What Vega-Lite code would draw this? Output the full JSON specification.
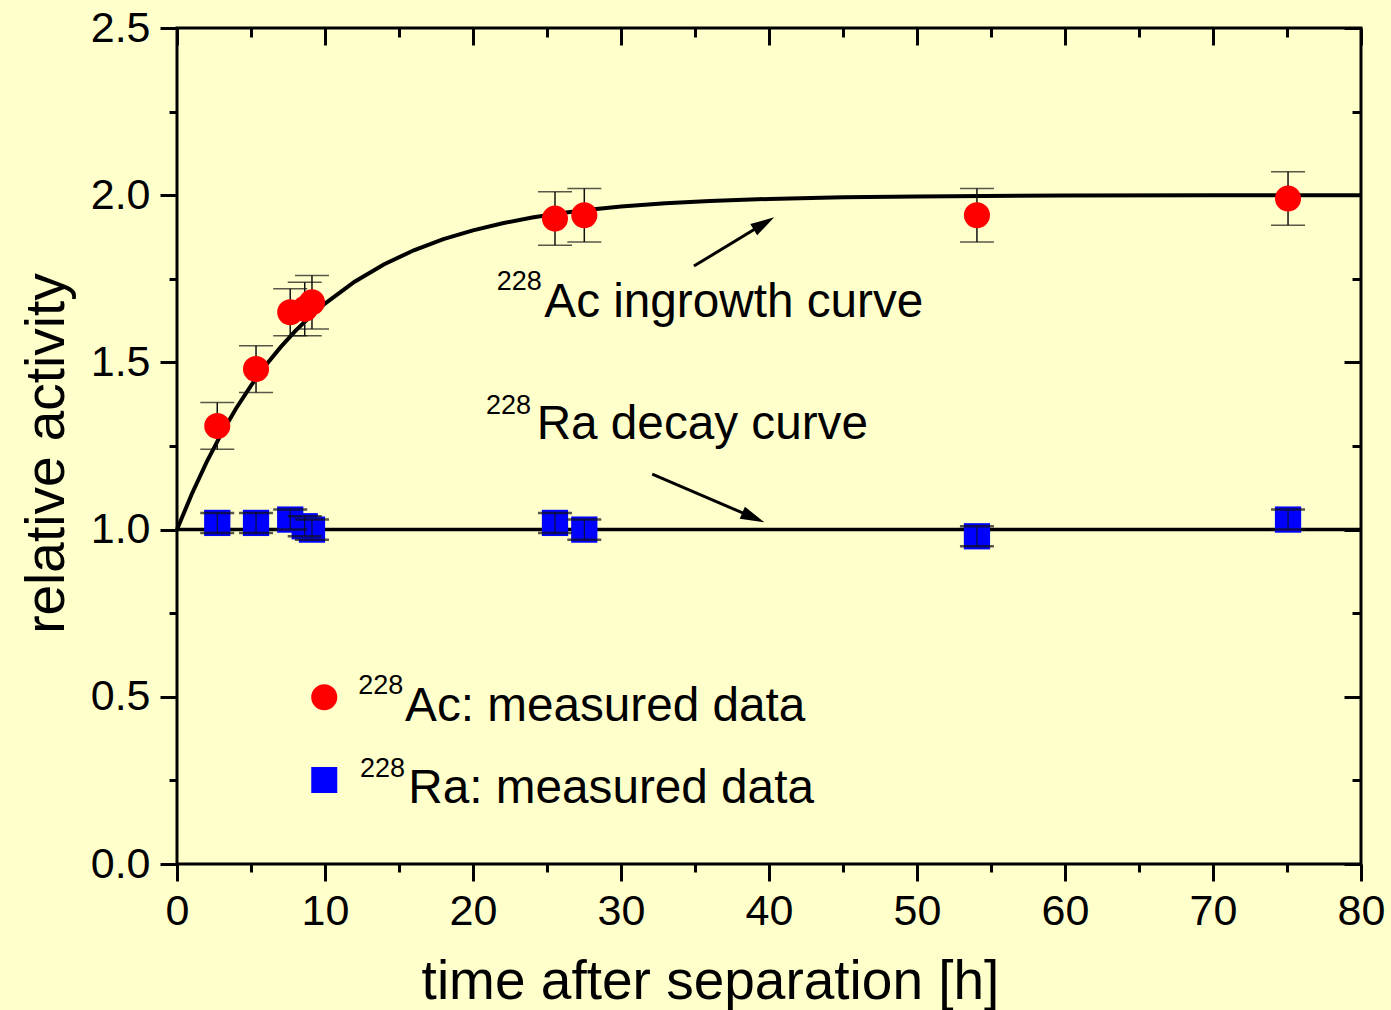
{
  "$schema": "https://vega.github.io/schema/vega-lite/v6.json",
  "width": 1184,
  "height": 836,
  "autosize": {"type": "none"},
  "padding": {"left": 177, "top": 28, "right": 30, "bottom": 146},
  "background": "#FFFFCC",
  "config": {
    "view": {"stroke": "black", "strokeWidth": 3, "fill": "#FFFFCC"},
    "font": "Liberation Sans",
    "axis": {"grid": false, "domain": false, "tickColor": "black", "tickWidth": 3, "labelColor": "black", "titleColor": "black", "labelFont": "Liberation Sans", "titleFont": "Liberation Sans", "titleFontWeight": "normal", "labelFlush": false, "labelOverlap": false}
  },
  "datasets": {
    "curve": [
      {"t": 0, "a": 1.0}, {"t": 1, "a": 1.1066}, {"t": 2, "a": 1.2018}, {"t": 3, "a": 1.2869},
      {"t": 4, "a": 1.3629}, {"t": 5, "a": 1.4308}, {"t": 6, "a": 1.4915}, {"t": 7, "a": 1.5457},
      {"t": 8, "a": 1.5941}, {"t": 9, "a": 1.6374}, {"t": 10, "a": 1.676}, {"t": 12, "a": 1.7414},
      {"t": 14, "a": 1.7936}, {"t": 16, "a": 1.8352}, {"t": 18, "a": 1.8685}, {"t": 20, "a": 1.895},
      {"t": 22, "a": 1.9162}, {"t": 24, "a": 1.9331}, {"t": 26, "a": 1.9466}, {"t": 28, "a": 1.9574},
      {"t": 30, "a": 1.966}, {"t": 33, "a": 1.9758}, {"t": 36, "a": 1.9827}, {"t": 40, "a": 1.989},
      {"t": 45, "a": 1.9937}, {"t": 50, "a": 1.9964}, {"t": 60, "a": 1.9988}, {"t": 70, "a": 1.9996},
      {"t": 80, "a": 1.9999}
    ],
    "ra_curve": [{"t": 0, "a": 1.0}, {"t": 80, "a": 1.0}],
    "ac": [
      {"t": 2.72, "a": 1.31, "lo": 1.24, "hi": 1.38},
      {"t": 5.34, "a": 1.48, "lo": 1.41, "hi": 1.55},
      {"t": 7.65, "a": 1.65, "lo": 1.58, "hi": 1.72},
      {"t": 8.63, "a": 1.66, "lo": 1.58, "hi": 1.74},
      {"t": 9.12, "a": 1.68, "lo": 1.6, "hi": 1.76},
      {"t": 25.54, "a": 1.93, "lo": 1.85, "hi": 2.01},
      {"t": 27.52, "a": 1.94, "lo": 1.86, "hi": 2.02},
      {"t": 54.05, "a": 1.94, "lo": 1.86, "hi": 2.02},
      {"t": 75.07, "a": 1.99, "lo": 1.91, "hi": 2.07}
    ],
    "ra": [
      {"t": 2.72, "a": 1.02, "lo": 0.99, "hi": 1.05},
      {"t": 5.34, "a": 1.02, "lo": 0.99, "hi": 1.05},
      {"t": 7.65, "a": 1.03, "lo": 1.0, "hi": 1.06},
      {"t": 8.63, "a": 1.01, "lo": 0.98, "hi": 1.04},
      {"t": 9.12, "a": 1.0, "lo": 0.97, "hi": 1.03},
      {"t": 25.54, "a": 1.02, "lo": 0.99, "hi": 1.05},
      {"t": 27.52, "a": 1.0, "lo": 0.97, "hi": 1.03},
      {"t": 54.05, "a": 0.98, "lo": 0.95, "hi": 1.01},
      {"t": 75.07, "a": 1.03, "lo": 1.0, "hi": 1.06}
    ],
    "arrows": [
      {"id": "ac", "t": 34.93, "a": 1.788}, {"id": "ac", "t": 39.66, "a": 1.9154},
      {"id": "ra", "t": 32.11, "a": 1.166}, {"id": "ra", "t": 38.94, "a": 1.0362}
    ],
    "sup": [
      {"t": 21.6, "a": 1.7165, "label": "228"},
      {"t": 20.88, "a": 1.3457, "label": "228"},
      {"t": 12.25, "a": 0.5084, "label": "228"},
      {"t": 12.36, "a": 0.261, "label": "228"}
    ],
    "main": [
      {"t": 24.82, "a": 1.635, "label": "Ac ingrowth curve"},
      {"t": 24.3, "a": 1.27, "label": "Ra decay curve"},
      {"t": 15.41, "a": 0.4276, "label": "Ac: measured data"},
      {"t": 15.63, "a": 0.1815, "label": "Ra: measured data"}
    ]
  },
  "resolve": {"axis": {"x": "independent", "y": "independent"}},
  "layer": [
    {
      "data": {"name": "curve"},
      "mark": {"type": "line", "color": "black", "strokeWidth": 4},
      "encoding": {
        "x": {"field": "t", "type": "quantitative", "scale": {"domain": [0, 80], "nice": false, "zero": false},
          "axis": {"orient": "bottom", "values": [0, 10, 20, 30, 40, 50, 60, 70, 80], "tickSize": 17, "labelFontSize": 43, "labelPadding": 9,
            "title": "time after separation [h]", "titleFontSize": 55, "titleX": 533, "titleY": 134, "titleBaseline": "alphabetic", "titleAlign": "center"}},
        "y": {"field": "a", "type": "quantitative", "scale": {"domain": [0, 2.5], "nice": false, "zero": false},
          "axis": {"orient": "left", "values": [0, 0.5, 1, 1.5, 2, 2.5], "format": ".1f", "tickSize": 17, "labelFontSize": 43, "labelPadding": 10,
            "title": "relative activity", "titleFontSize": 55, "titleX": -114, "titleY": 425, "titleAngle": -90, "titleBaseline": "alphabetic", "titleAlign": "center"}}
      }
    },
    {
      "data": {"name": "ra_curve"},
      "mark": {"type": "line", "color": "black", "strokeWidth": 3.5},
      "encoding": {
        "x": {"field": "t", "type": "quantitative", "scale": {"domain": [0, 80], "nice": false},
          "axis": {"orient": "bottom", "values": [5, 15, 25, 35, 45, 55, 65, 75], "tickSize": 8, "labels": false, "title": null}},
        "y": {"field": "a", "type": "quantitative", "scale": {"domain": [0, 2.5], "nice": false},
          "axis": {"orient": "left", "values": [0.25, 0.75, 1.25, 1.75, 2.25], "tickSize": 8, "labels": false, "title": null}}
      }
    },
    {
      "data": {"name": "ac"},
      "mark": {"type": "rule", "color": "#111111", "strokeWidth": 1.5},
      "encoding": {
        "x": {"field": "t", "type": "quantitative",
          "axis": {"orient": "top", "values": [0, 10, 20, 30, 40, 50, 60, 70, 80], "tickSize": -17, "labels": false, "title": null}},
        "y": {"field": "lo", "type": "quantitative",
          "axis": {"orient": "right", "values": [0, 0.5, 1, 1.5, 2, 2.5], "tickSize": -17, "labels": false, "title": null}},
        "y2": {"field": "hi"}
      }
    },
    {
      "data": {"name": "ac"},
      "mark": {"type": "tick", "orient": "horizontal", "color": "#111111", "size": 34, "thickness": 1.5},
      "encoding": {
        "x": {"field": "t", "type": "quantitative",
          "axis": {"orient": "top", "values": [5, 15, 25, 35, 45, 55, 65, 75], "tickSize": -9, "labels": false, "title": null}},
        "y": {"field": "lo", "type": "quantitative",
          "axis": {"orient": "right", "values": [0.25, 0.75, 1.25, 1.75, 2.25], "tickSize": -9, "labels": false, "title": null}}
      }
    },
    {
      "data": {"name": "ac"},
      "mark": {"type": "tick", "orient": "horizontal", "color": "#111111", "size": 34, "thickness": 1.5},
      "encoding": {
        "x": {"field": "t", "type": "quantitative", "axis": null},
        "y": {"field": "hi", "type": "quantitative", "axis": null}
      }
    },
    {
      "data": {"name": "ac"},
      "mark": {"type": "point", "shape": "circle", "filled": true, "color": "#FF0000", "opacity": 1, "size": 680},
      "encoding": {
        "x": {"field": "t", "type": "quantitative", "axis": null},
        "y": {"field": "a", "type": "quantitative", "axis": null}
      }
    },
    {
      "data": {"name": "ra"},
      "mark": {"type": "point", "shape": "square", "filled": true, "color": "#0000FF", "opacity": 1, "size": 690},
      "encoding": {
        "x": {"field": "t", "type": "quantitative", "axis": null},
        "y": {"field": "a", "type": "quantitative", "axis": null}
      }
    },
    {
      "data": {"name": "ra"},
      "mark": {"type": "rule", "color": "#111111", "strokeWidth": 1},
      "encoding": {
        "x": {"field": "t", "type": "quantitative", "axis": null},
        "y": {"field": "lo", "type": "quantitative", "axis": null},
        "y2": {"field": "hi"}
      }
    },
    {
      "data": {"name": "ra"},
      "mark": {"type": "tick", "orient": "horizontal", "color": "#111111", "size": 34, "thickness": 2.5},
      "encoding": {
        "x": {"field": "t", "type": "quantitative", "axis": null},
        "y": {"field": "lo", "type": "quantitative", "axis": null}
      }
    },
    {
      "data": {"name": "ra"},
      "mark": {"type": "tick", "orient": "horizontal", "color": "#111111", "size": 34, "thickness": 2.5},
      "encoding": {
        "x": {"field": "t", "type": "quantitative", "axis": null},
        "y": {"field": "hi", "type": "quantitative", "axis": null}
      }
    },
    {
      "data": {"values": [{"t": 9.95, "a": 0.4985}]},
      "mark": {"type": "point", "shape": "circle", "filled": true, "color": "#FF0000", "opacity": 1, "size": 680},
      "encoding": {
        "x": {"field": "t", "type": "quantitative", "axis": null},
        "y": {"field": "a", "type": "quantitative", "axis": null}
      }
    },
    {
      "data": {"values": [{"t": 9.95, "a": 0.2512}]},
      "mark": {"type": "point", "shape": "square", "filled": true, "color": "#0000FF", "opacity": 1, "size": 676},
      "encoding": {
        "x": {"field": "t", "type": "quantitative", "axis": null},
        "y": {"field": "a", "type": "quantitative", "axis": null}
      }
    },
    {
      "data": {"name": "arrows"},
      "mark": {"type": "line", "color": "black", "strokeWidth": 3},
      "encoding": {
        "x": {"field": "t", "type": "quantitative", "axis": null},
        "y": {"field": "a", "type": "quantitative", "axis": null},
        "detail": {"field": "id"}
      }
    },
    {
      "data": {"values": [{"t": 39.66, "a": 1.9154}]},
      "mark": {"type": "point", "shape": "M0,-1L-0.55,1L0.55,1Z", "filled": true, "color": "black", "opacity": 1, "size": 576, "angle": 58.8},
      "encoding": {
        "x": {"field": "t", "type": "quantitative", "axis": null},
        "y": {"field": "a", "type": "quantitative", "axis": null}
      }
    },
    {
      "data": {"values": [{"t": 38.94, "a": 1.0362}]},
      "mark": {"type": "point", "shape": "M0,-1L-0.55,1L0.55,1Z", "filled": true, "color": "black", "opacity": 1, "size": 576, "angle": 113.3},
      "encoding": {
        "x": {"field": "t", "type": "quantitative", "axis": null},
        "y": {"field": "a", "type": "quantitative", "axis": null}
      }
    },
    {
      "data": {"name": "sup"},
      "mark": {"type": "text", "align": "left", "baseline": "alphabetic", "fontSize": 27, "font": "Liberation Sans", "color": "black"},
      "encoding": {
        "x": {"field": "t", "type": "quantitative", "axis": null},
        "y": {"field": "a", "type": "quantitative", "axis": null},
        "text": {"field": "label"}
      }
    },
    {
      "data": {"name": "main"},
      "mark": {"type": "text", "align": "left", "baseline": "alphabetic", "fontSize": 47.7, "font": "Liberation Sans", "color": "black"},
      "encoding": {
        "x": {"field": "t", "type": "quantitative", "axis": null},
        "y": {"field": "a", "type": "quantitative", "axis": null},
        "text": {"field": "label"}
      }
    }
  ]
}
